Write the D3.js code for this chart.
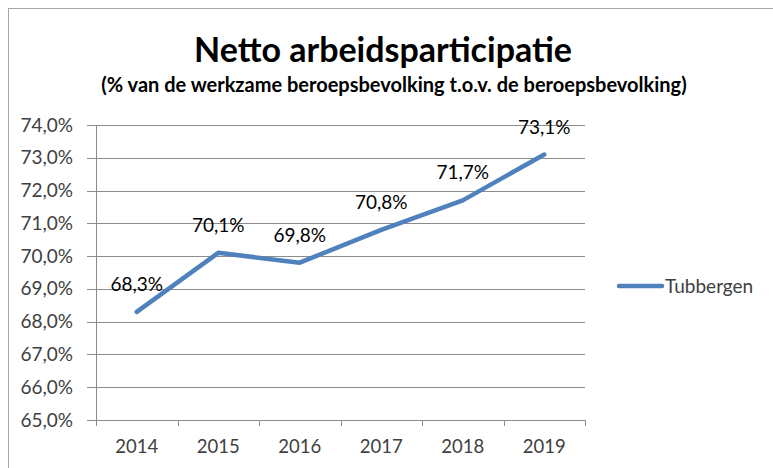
<!DOCTYPE html>
<html>
<head>
<meta charset="utf-8">
<script src="https://cdn.jsdelivr.net/npm/d3@7"></script>
<style>
  body { margin: 0; background: #fff; }
  svg { font-family: Lato, "Open Sans", sans-serif; }
</style>
</head>
<body>
<div id="chart"></div>
<script>
const years = ["2014", "2015", "2016", "2017", "2018", "2019"];
const tubbergen = [68.3, 70.1, 69.8, 70.8, 71.7, 73.1];
const yTicks = [65, 66, 67, 68, 69, 70, 71, 72, 73, 74];
const seriesName = "Tubbergen";

const W = 773, H = 468;
const plot = { left: 96, right: 585, top: 125, bottom: 420 };
const lineColor = "#4f81bd";
const gridColor = "#8c8c8c";
const textColor = "#404040";
const fontSize = 19;

const pct = v => d3.format(".1f")(v).replace(".", ",") + "%";

const svg = d3.select("#chart").append("svg")
    .attr("width", W)
    .attr("height", H);

// frame (only top and left edge visible in the crop)
svg.append("line")
    .attr("x1", 8).attr("x2", W).attr("y1", 8.5).attr("y2", 8.5)
    .attr("stroke", "#a6a6a6").attr("stroke-width", 1);
svg.append("line")
    .attr("x1", 8.5).attr("x2", 8.5).attr("y1", 8).attr("y2", H)
    .attr("stroke", "#a6a6a6").attr("stroke-width", 1);

// titles
svg.append("text")
    .attr("x", 383).attr("y", 62)
    .attr("text-anchor", "middle")
    .attr("font-size", 34).attr("font-weight", "bold")
    .attr("fill", "#000")
    .text("Netto arbeidsparticipatie");

svg.append("text")
    .attr("x", 394).attr("y", 92)
    .attr("text-anchor", "middle")
    .attr("font-size", 20).attr("font-weight", "bold")
    .attr("fill", "#000")
    .text("(% van de werkzame beroepsbevolking t.o.v. de beroepsbevolking)");

const x = d3.scaleBand()
    .domain(years)
    .range([plot.left, plot.right])
    .padding(0);

const y = d3.scaleLinear()
    .domain([65, 74])
    .range([plot.bottom, plot.top]);

// horizontal gridlines
svg.selectAll("hGrid")
    .data(yTicks)
    .join("line")
    .attr("x1", plot.left - 9)
    .attr("x2", plot.right)
    .attr("y1", d => Math.round(y(d)) + 0.5)
    .attr("y2", d => Math.round(y(d)) + 0.5)
    .attr("stroke", gridColor)
    .attr("stroke-width", 1);

// y axis
const yAxis = d3.axisLeft(y)
    .tickValues(yTicks)
    .tickFormat(pct)
    .tickSize(0)
    .tickPadding(23);

svg.append("g")
    .attr("transform", `translate(${plot.left}, 0)`)
    .call(yAxis)
    .call(g => g.select(".domain").remove())
    .selectAll(".tick text")
    .attr("font-size", fontSize)
    .attr("font-family", "Lato, sans-serif")
    .attr("fill", textColor);

svg.append("line")
    .attr("x1", plot.left + 0.5).attr("x2", plot.left + 0.5)
    .attr("y1", plot.top).attr("y2", plot.bottom + 6)
    .attr("stroke", gridColor);

// x axis
const xAxis = d3.axisBottom(x)
    .tickSize(0)
    .tickPadding(20);

svg.append("g")
    .attr("transform", `translate(0, ${plot.bottom})`)
    .call(xAxis)
    .call(g => g.select(".domain").remove())
    .selectAll(".tick text")
    .attr("font-size", fontSize - 0.5)
    .attr("font-family", "Lato, sans-serif")
    .attr("fill", textColor);

// x tick marks at band edges
const edges = years.map(d => x(d)).concat([x(years[years.length - 1]) + x.bandwidth()]);
svg.selectAll("xTick")
    .data(edges)
    .join("line")
    .attr("x1", d => Math.round(d) + 0.5)
    .attr("x2", d => Math.round(d) + 0.5)
    .attr("y1", plot.bottom)
    .attr("y2", plot.bottom + 6)
    .attr("stroke", gridColor);

// series line
const points = years.map((yr, i) => ({ year: yr, value: tubbergen[i] }));

svg.append("path")
    .datum(points)
    .attr("fill", "none")
    .attr("stroke", lineColor)
    .attr("stroke-width", 4.5)
    .attr("stroke-linejoin", "round")
    .attr("stroke-linecap", "round")
    .attr("d", d3.line()
        .x(d => x(d.year) + x.bandwidth() / 2)
        .y(d => y(d.value)));

// data labels
svg.selectAll("dataLabel")
    .data(points)
    .join("text")
    .attr("x", d => x(d.year) + x.bandwidth() / 2)
    .attr("y", d => y(d.value) - 21)
    .attr("text-anchor", "middle")
    .attr("font-size", fontSize)
    .attr("fill", "#000")
    .text(d => pct(d.value));

// legend
const legendY = 286;
svg.append("line")
    .attr("x1", 619).attr("x2", 662)
    .attr("y1", legendY).attr("y2", legendY)
    .attr("stroke", lineColor)
    .attr("stroke-width", 4.5)
    .attr("stroke-linecap", "round");

svg.append("text")
    .attr("x", 665).attr("y", legendY + 7)
    .attr("font-size", fontSize)
    .attr("fill", textColor)
    .text(seriesName);
</script>
</body>
</html>
